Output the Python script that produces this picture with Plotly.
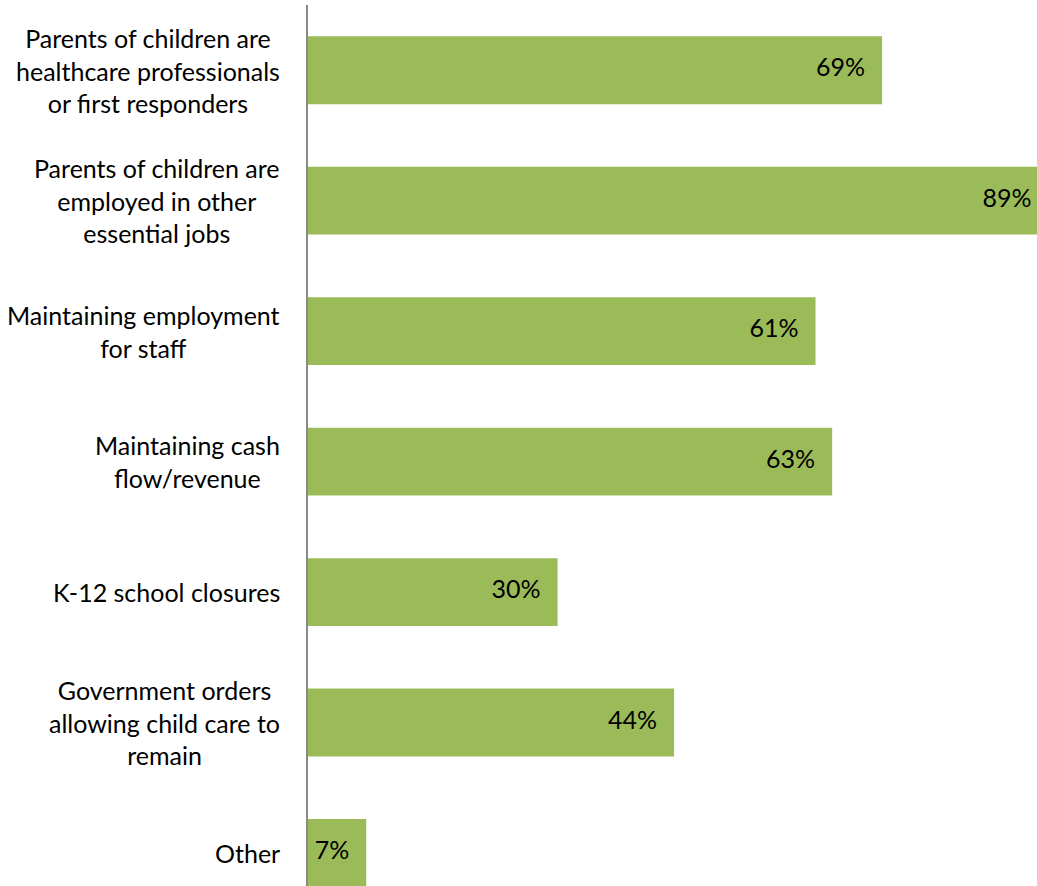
import plotly.graph_objects as go

# Reasons for remaining open (share of respondents, %)
categories = [
    "Parents of children are<br>healthcare professionals<br>or first responders",
    "Parents of children are<br>employed in other<br>essential jobs",
    "Maintaining employment<br>for staff",
    "Maintaining cash<br>flow/revenue",
    "K-12 school closures",
    "Government orders<br>allowing child care to<br>remain",
    "Other",
]
values = [69, 89, 61, 63, 30, 44, 7]
value_labels = [f"{v}%" for v in values]

BAR_COLOR = "#9BBB59"
AXIS_COLOR = "#898989"
FONT = "Lato"
FONT_SIZE = 25

FIG_W, FIG_H = 1037, 886
MARGIN_L = 308
X_MAX = 87.62            # visible extent of the value axis (longest bar runs past it)
LABEL_PAD = 17           # gap between a value label and the end of its bar, px

# the label axis is the value axis shifted left by LABEL_PAD pixels,
# so a label anchored at value v ends LABEL_PAD px before the bar end
px_per_unit = (FIG_W - MARGIN_L) / X_MAX
label_shift = LABEL_PAD / px_per_unit

fig = go.Figure()

fig.add_trace(go.Bar(
    x=values,
    y=categories,
    orientation="h",
    width=0.52,
    marker=dict(color=BAR_COLOR, line=dict(width=0)),
    hoverinfo="skip",
))

fig.add_trace(go.Scatter(
    x=values,
    y=categories,
    xaxis="x2",
    mode="text",
    text=value_labels,
    textposition="middle left",
    textfont=dict(family=FONT, size=FONT_SIZE, color="#000000"),
    cliponaxis=False,
    hoverinfo="skip",
))

annotations = []
# category labels, centred lines, right edge just left of the axis
for cat in categories:
    annotations.append(dict(
        x=0, xref="paper", y=cat, yref="y",
        text=cat, showarrow=False,
        xanchor="right", yanchor="middle", align="center",
        xshift=-26,
        font=dict(family=FONT, size=FONT_SIZE, color="#000000"),
    ))

fig.update_layout(
    width=FIG_W,
    height=FIG_H,
    margin=dict(l=MARGIN_L, r=0, t=5, b=0, pad=0),
    paper_bgcolor="white",
    plot_bgcolor="white",
    showlegend=False,
    bargap=0.48,
    annotations=annotations,
    xaxis=dict(
        range=[0, X_MAX],
        visible=False,
        fixedrange=True,
    ),
    xaxis2=dict(
        overlaying="x",
        range=[label_shift, X_MAX + label_shift],
        visible=False,
        fixedrange=True,
    ),
    yaxis=dict(
        type="category",
        categoryorder="array",
        categoryarray=categories,
        range=[6.253, -0.5],
        showticklabels=False,
        ticks="",
        showgrid=False,
        zeroline=False,
        showline=True,
        linecolor=AXIS_COLOR,
        linewidth=2,
        fixedrange=True,
    ),
)

fig.write_html("out.html", config={"displayModeBar": False})
